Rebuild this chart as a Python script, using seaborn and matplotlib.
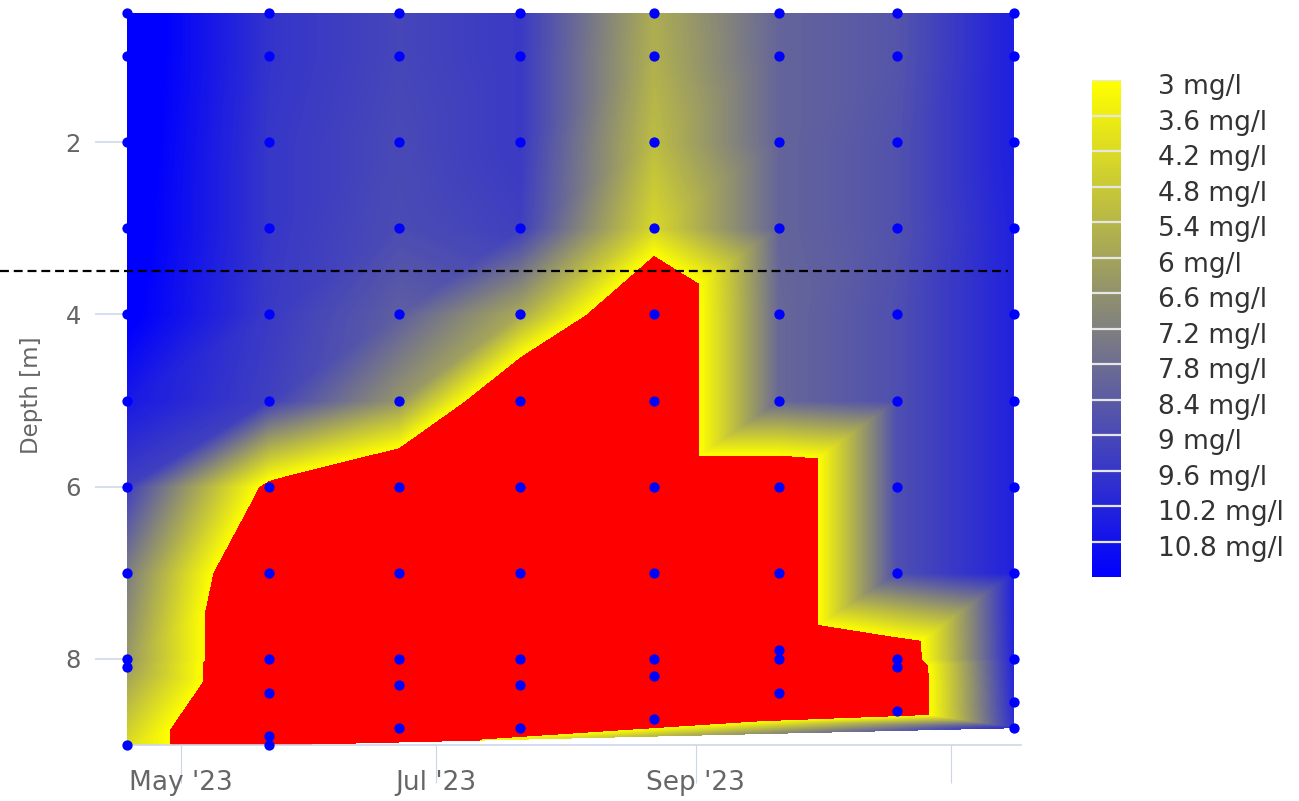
import numpy as np
import pandas as pd
import matplotlib
matplotlib.use("Agg")
import matplotlib.pyplot as plt
import matplotlib.tri as mtri
import matplotlib.dates as mdates
import matplotlib.transforms as mtransforms
from matplotlib.colors import LinearSegmentedColormap, Normalize
from matplotlib.cm import ScalarMappable
import seaborn as sns

# ---------------- data ----------------
sample_dates = ["2023-04-18", "2023-05-22", "2023-06-22", "2023-07-21",
                "2023-08-22", "2023-09-21", "2023-10-19", "2023-11-16"]

depth_apr18 = [0.5, 1, 2, 3, 4, 5, 6, 7, 8, 8.1, 9.0]
do_apr18 = [12.0, 12.0, 11.9, 11.8, 11.6, 10.6, 9.3, 7.3, 6.4, 6.2, 4.2]

depth_may22 = [0.5, 1, 2, 3, 4, 5, 6, 7, 8, 8.4, 8.9, 9.0]
do_may22 = [9.7, 9.7, 9.6, 9.6, 9.5, 9.3, 2.5, 0.2, 0.2, 0.2, 0.2, 0.3]

depth_jun22 = [0.5, 1, 2, 3, 4, 5, 6, 7, 8, 8.3, 8.8]
do_jun22 = [9.1, 9.1, 9.0, 8.9, 8.3, 6.5, 0.1, 0.1, 0.1, 0.1, 0.1]

depth_jul21 = [0.5, 1, 2, 3, 4, 5, 6, 7, 8, 8.3, 8.8]
do_jul21 = [9.5, 9.5, 9.5, 9.3, 5.8, 0.1, 0.1, 0.1, 0.1, 0.1, 0.1]

depth_aug22 = [0.5, 1, 2, 3, 4, 5, 6, 7, 8, 8.2, 8.7]
do_aug22 = [5.7, 5.6, 5.2, 4.3, 0.1, 0.1, 0.1, 0.1, 0.1, 0.1, 0.1]

depth_sep21 = [0.5, 1, 2, 3, 4, 5, 6, 7, 7.9, 8.0, 8.4]
do_sep21 = [8.1, 8.1, 8.1, 8.1, 8.0, 8.0, 0.1, 0.1, 0.1, 0.1, 0.1]

depth_oct19 = [0.5, 1, 2, 3, 4, 5, 6, 7, 8, 8.1, 8.6]
do_oct19 = [8.6, 8.6, 8.7, 8.7, 8.8, 8.8, 8.8, 8.8, 1.0, 0.3, 0.3]

depth_nov16 = [0.5, 1, 2, 3, 4, 5, 6, 7, 8, 8.5, 8.8]
do_nov16 = [10.4, 10.4, 10.4, 10.3, 10.3, 10.3, 10.3, 10.3, 10.2, 10.0, 9.8]

threshold_depth = 3.5
colorbar_ticks = [3, 3.6, 4.2, 4.8, 5.4, 6, 6.6, 7.2, 7.8, 8.4, 9, 9.6, 10.2, 10.8]
xtick_dates = ["2023-05-01", "2023-07-01", "2023-09-01", "2023-11-01"]
xtick_labels = ["May '23", "Jul '23", "Sep '23", ""]
ytick_values = [2, 4, 6, 8]

# ---------------- table ----------------
depth_profiles = [depth_apr18, depth_may22, depth_jun22, depth_jul21,
                  depth_aug22, depth_sep21, depth_oct19, depth_nov16]
do_profiles = [do_apr18, do_may22, do_jun22, do_jul21,
               do_aug22, do_sep21, do_oct19, do_nov16]
rows = []
for d, deps, vals in zip(sample_dates, depth_profiles, do_profiles):
    for z, v in zip(deps, vals):
        rows.append((d, z, v))
df = pd.DataFrame(rows, columns=["date", "depth", "do"])
df["date"] = pd.to_datetime(df["date"])
df["x"] = mdates.date2num(df["date"])

# ---------------- figure ----------------
sns.set_theme(style="white")
plt.rcParams["font.family"] = ["DejaVu Sans"]
W, H = 1299, 801
fig = plt.figure(figsize=(W / 100, H / 100), dpi=100)
ax_left, ax_right, ax_top, ax_bot = 126.6, 1021.0, 13.0, 745.0
ax = fig.add_axes([ax_left / W, 1 - ax_bot / H, (ax_right - ax_left) / W, (ax_bot - ax_top) / H])

# triangulation in (approximate) screen space, then reused in data space
px_per_day, px_per_m = 4.185, 86.1
xs = df["x"].to_numpy()
ys = df["depth"].to_numpy()
tri_screen = mtri.Triangulation((xs - xs.min()) * px_per_day + 1.0 * ys, ys * px_per_m)
tri = mtri.Triangulation(xs, ys, triangles=tri_screen.triangles)

cmap = LinearSegmentedColormap.from_list("do_cmap", ["#ffff00", "#0000ff"], N=512)
cmap.set_under("#ff0000")
cmap.set_over("#0000ff")
norm = Normalize(vmin=3, vmax=11.4)
levels = np.linspace(3, 11.4, 211)
ax.tricontourf(tri, df["do"].to_numpy(), levels=levels, cmap=cmap, norm=norm,
               extend="both", antialiased=False, zorder=1)

# threshold line
ax.plot([-ax_left / (ax_right - ax_left), (1008 - ax_left) / (ax_right - ax_left)],
        [threshold_depth, threshold_depth], transform=ax.get_yaxis_transform(),
        color="black", lw=1.6, ls=(0, (4, 2.2)), clip_on=False, zorder=4)

# sample points
sns.scatterplot(data=df, x="x", y="depth", color="#0000ff", s=55, linewidth=0,
                ax=ax, legend=False, zorder=5, clip_on=False)

ax.set_xlim(xs.min(), xs.min() + (ax_right - ax_left) / px_per_day)
ax.set_ylim(9.0, 0.5)

ax.set_xticks(mdates.date2num(pd.to_datetime(xtick_dates)))
ax.set_xticklabels(xtick_labels)
ax.set_yticks(ytick_values)
ax.set_yticklabels([str(v) for v in ytick_values])
ax.set_xlabel("")
ax.set_ylabel("Depth [m]", fontsize=16.5, color="#666666")
ax.yaxis.set_label_coords(-0.094, 0.478)

for s in ["top", "right", "left"]:
    ax.spines[s].set_visible(False)
ax.spines["bottom"].set_color("#ccd6eb")
ax.spines["bottom"].set_linewidth(1.2)
ax.tick_params(axis="x", bottom=True, direction="out", length=27.4, width=0.8,
               color="#ccd6eb", pad=-9.5, labelsize=19, labelcolor="#666666")
ax.tick_params(axis="y", left=True, direction="out", length=23, width=1.1,
               color="#ccd6eb", pad=10, labelsize=17.5, labelcolor="#666666")

# colour legend
cax = fig.add_axes([1092 / W, 1 - 577 / H, 29 / W, 497 / H])
cb = fig.colorbar(ScalarMappable(norm=norm, cmap=cmap), cax=cax, ticks=colorbar_ticks)
cb.outline.set_visible(False)
cax.invert_yaxis()
cb.set_ticklabels([f"{v:g} mg/l" for v in colorbar_ticks])
cax.tick_params(axis="y", right=True, length=0, pad=27, labelsize=19, labelcolor="#333333")
for v in colorbar_ticks:
    cax.axhline(v, color="#e6e6e6", lw=1.6)
offset = mtransforms.ScaledTranslation(0, -3 / 72, fig.dpi_scale_trans)
for lbl in cax.get_yticklabels():
    lbl.set_transform(lbl.get_transform() + offset)

fig.savefig("out.png", dpi=100)
